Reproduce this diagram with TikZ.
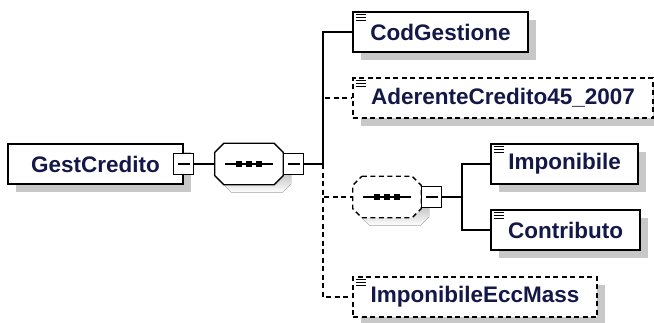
\documentclass[tikz,border=0pt]{standalone}
\usepackage{fontspec}
\setmainfont{Liberation Sans}
\usepackage{xcolor}
\usepackage{tikz}
\usetikzlibrary{positioning,calc,shadows}
\definecolor{elemtext}{RGB}{20,24,72}
\definecolor{shade}{RGB}{200,200,200}
\newcommand{\seqoutline}[2]{($(#1.north west)+(#2)+(9,0)$) -- ($(#1.north east)+(#2)+(-9,0)$) -- ($(#1.north east)+(#2)+(0,9)$) -- ($(#1.south east)+(#2)+(0,-9)$) -- ($(#1.south east)+(#2)+(-9,0)$) -- ($(#1.south west)+(#2)+(9,0)$) -- ($(#1.south west)+(#2)+(0,-9)$) -- ($(#1.north west)+(#2)+(0,9)$) -- cycle}

\begin{document}
\begin{tikzpicture}[
	x=1pt, y=-1pt,
	conn/.style={line width=1.4pt},
	opt/.style={dash pattern=on 5pt off 3.5pt},
	boxshadow/.style={drop shadow={shadow xshift=8pt, shadow yshift=-8pt, fill=shade, opacity=1}},
	elem/.style={draw, line width=1.4pt, fill=white, minimum height=40pt, inner sep=0pt, text=elemtext, font=\bfseries\fontsize{22.5}{27}\selectfont, boxshadow},
	icon/.style={path picture={
		\foreach \dy in {2.5pt,5.5pt,8.5pt}
			\draw[solid, line width=1.3pt] ([shift={(2.5pt,-\dy)}]path picture bounding box.north west) -- ++(10,0);}},
	seq/.style={minimum width=68pt, minimum height=41pt, inner sep=0pt},
	seqline/.style={draw, line width=1.3pt, fill=white},
	minus/.style={draw, solid, line width=1.2pt, fill=white, minimum width=20pt, minimum height=21pt, inner sep=0pt, path picture={
		\draw[line width=1.2pt] ([xshift=4pt]path picture bounding box.west) -- ([xshift=-4pt]path picture bounding box.east);}}
	]
	\useasboundingbox (0,0) rectangle (654,322);
	\node[elem, minimum width=175pt] (gc) at (95.5,164) {GestCredito};
	\node[minus] (gcMinus) at (gc.east) {};
	\node[seq] (seq) at (249,164) {};
	\node[seq] (seqOpt) at (387,197) {};
	\foreach \s/\b in {seq/solid, seqOpt/opt} {
		\fill[shade] \seqoutline{\s}{8,8};
		\draw[seqline, \b] \seqoutline{\s}{0,0};
		\draw[line width=1.2pt] ([xshift=10pt]\s.west) -- ([xshift=-10pt]\s.east);
		\foreach \dx in {-10pt,0pt,10pt}
			\fill[black] ([xshift=\dx]\s.center) +(-2.6pt,-2.6pt) rectangle +(2.6pt,2.6pt);
	}
	\node[minus, anchor=west] (seqMinus) at (seq.east) {};
	\node[minus, anchor=west] (seqOptMinus) at (seqOpt.east) {};
	\coordinate (j1) at (323,164);
	\coordinate (j2) at (462,197);
	\node[elem, icon, minimum width=175pt] (cod) at (440.5,32) {CodGestione};
	\node[elem, icon, opt, minimum width=300pt] (ader) at (503,98) {AderenteCredito45\_2007};
	\node[elem, icon, minimum width=147pt] (impo) at (564.5,164) {Imponibile};
	\node[elem, icon, minimum width=149pt] (contr) at (565.5,230) {Contributo};
	\node[elem, icon, opt, minimum width=244pt] (ecc) at (475,297) {ImponibileEccMass};
	\draw[conn] (gcMinus) -- (seq);
	\draw[conn] (seqMinus) -- (j1);
	\draw[conn] (j1) |- (cod.west);
	\draw[conn, opt] (j1) |- (ader.west);
	\draw[conn, opt] (j1) |- (seqOpt.west);
	\draw[conn, opt] (j1) |- (ecc.west);
	\draw[conn] (seqOptMinus) -- (j2);
	\draw[conn] (j2) |- (impo.west);
	\draw[conn] (j2) |- (contr.west);
\end{tikzpicture}
\end{document}
